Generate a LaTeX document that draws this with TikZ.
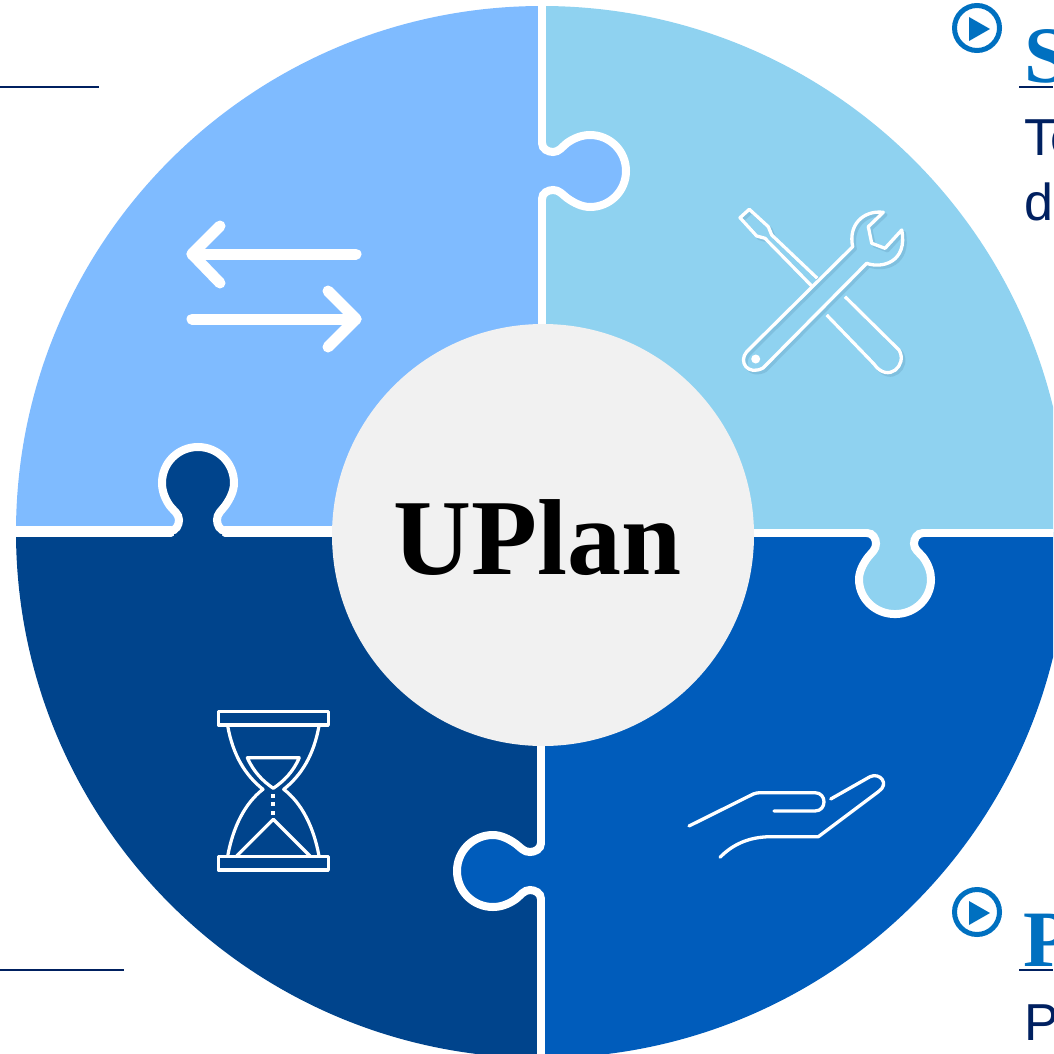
\documentclass[tikz,border=0pt]{standalone}
\usepackage{xcolor}
\usepackage{fontspec}
\setmainfont{Liberation Serif}
\setsansfont{Liberation Sans}
\usetikzlibrary{positioning}

\definecolor{lightblue}{HTML}{7FBBFF}
\definecolor{skyblue}{HTML}{8FD2F0}
\definecolor{darkblue}{HTML}{00448C}
\definecolor{midblue}{HTML}{005CBB}
\definecolor{hubgray}{HTML}{F1F1F1}
\definecolor{playblue}{HTML}{0070C0}
\definecolor{navy}{HTML}{002060}
\definecolor{toolshadow}{HTML}{80C0DF}

\tikzset{
    knob/.pic={
        % neck sits on the seam, head points along +x
        \path[fill=\knobfill] (-6,-24) -- (6,-24) -- (11,-19) .. controls (17,-19) and (20,-24) .. (25,-28)
            .. controls (32,-33) and (40,-36) .. (48,-36)
            .. controls (68,-36) and (84,-20) .. (84,0)
            .. controls (84,20) and (68,36) .. (48,36)
            .. controls (40,36) and (32,32) .. (25,27)
            .. controls (20,23) and (17,19) .. (11,19) -- (6,24) -- (-6,24) -- cycle;
        \draw[seam] (0,-28) .. controls (0,-22) and (6,-19) .. (11,-19)
            .. controls (17,-19) and (20,-24) .. (25,-28)
            .. controls (32,-33) and (40,-36) .. (48,-36)
            .. controls (68,-36) and (84,-20) .. (84,0)
            .. controls (84,20) and (68,36) .. (48,36)
            .. controls (40,36) and (32,32) .. (25,27)
            .. controls (20,23) and (17,19) .. (11,19)
            .. controls (6,19) and (0,22) .. (0,28);
    }
}

\begin{document}
\begin{tikzpicture}[
            x=1pt, y=-1pt,
            seam/.style={draw=white, line width=8pt, line cap=round},
            bigarrow/.style={draw=white, line width=11pt, line cap=round, line join=round},
            iconline/.style={draw=white, line width=3.2pt, line join=round},
            handline/.style={draw=white, line width=3.3pt, line cap=round, line join=round},
            rule/.style={draw=navy, line width=1.2pt},
            play/.style={circle, draw=playblue, line width=5pt, minimum size=45pt, inner sep=0pt},
            heading/.style={font=\fontsize{80}{80}\selectfont\bfseries, text=playblue, anchor=base west, inner sep=0pt},
            body/.style={font=\sffamily\fontsize{52}{52}\selectfont, text=navy, anchor=base west, inner sep=0pt}
        ]
        \useasboundingbox (0,0) rectangle (1053,1054);
        \clip (0,0) rectangle (1053,1054);

        % Quadrants
        \fill[lightblue] (542,532) -- (16,532) arc[start angle=180, end angle=90, radius=526pt] -- cycle;
        \fill[skyblue] (542,532) -- (542,6) arc[start angle=90, end angle=0, radius=526pt] -- cycle;
        \fill[midblue] (542,532) -- (1068,532) arc[start angle=0, end angle=-90, radius=526pt] -- cycle;
        \fill[darkblue] (542,532) -- (542,1058) arc[start angle=-90, end angle=-180, radius=526pt] -- cycle;

        % Seams
        \draw[seam] (542,-5) -- (542,143);
        \draw[seam] (542,199) -- (542,330);
        \draw[seam] (1060,533) -- (923,533);
        \draw[seam] (867,533) -- (750,533);
        \draw[seam] (541,740) -- (541,843);
        \draw[seam] (541,899) -- (541,1060);
        \draw[seam, line width=11pt] (10,531) -- (171,531);
        \draw[seam, line width=11pt] (225,531) -- (335,531);

        % Knobs
        \def\knobfill{lightblue}
        \pic at (542,171) {knob};
        \def\knobfill{skyblue}
        \pic[rotate=-90, xscale=.965] at (895,533) {knob};
        \def\knobfill{midblue}
        \pic[rotate=180] at (541,871) {knob};
        \def\knobfill{darkblue}
        \pic[rotate=90] at (198,531) {knob};

        % Centre
        \node[circle, fill=hubgray, minimum size=422pt, inner sep=0pt] (hub) at (543,535) {};
        \node[font=\fontsize{108}{108}\selectfont\bfseries, anchor=base, inner sep=0pt] (title) at (538,574) {UPlan};

        % Arrows icon
        \draw[bigarrow] (192,254) -- (356,254);
        \draw[bigarrow] (220,226) -- (192,254) -- (220,283);
        \draw[bigarrow] (192,319) -- (356,319);
        \draw[bigarrow] (328,291) -- (356,319) -- (328,347);

        % Tools icon, shadow first
        \foreach \dd/\cc in {2.5/toolshadow, 0/white} {
            \begin{scope}[shift={(\dd,\dd)}, every path/.style={draw=\cc, line width=3.3pt, line join=round}]
                \draw (883.3,212.3) .. controls (863,210) and (848,225) .. (852.7,246.7)
                    -- (746.7,351.7) .. controls (738,362) and (748,376) .. (763,368)
                    -- (866.7,263.3) .. controls (882,269) and (908,262) .. (901.7,230)
                    -- (885,248.3) -- (871.7,243.3) -- (868.3,226.7) -- cycle;
                \draw (817.3,278.3) -- (771.7,235) -- (768.3,226.7) -- (749.3,209.3) -- (740,217.7)
                    -- (756.7,236) -- (765,238.3) -- (811.7,286);
                \draw (845,296.7) -- (899,350) .. controls (908,365) and (888,384) .. (874,364) -- (826.7,315);
            \end{scope}
        }
        \fill[white] (755.7,359) circle (4.5pt);

        % Hourglass icon
        \draw[iconline] (218.3,711.7) rectangle (328.3,725);
        \draw[iconline] (218.3,856.7) rectangle (328.3,870);
        \draw[iconline] (227.7,726) .. controls (233,755) and (245,775) .. (263,789.3)
            .. controls (245,803) and (233,827) .. (227.7,856);
        \draw[iconline] (319,726) .. controls (313.7,755) and (301.7,775) .. (283.7,789.3)
            .. controls (301.7,803) and (313.7,827) .. (319,856);
        \draw[iconline] (247.3,757.7) -- (299.3,757.7) .. controls (293,772) and (284,781) .. (273.3,788.3)
            .. controls (262.7,781) and (253.7,772) .. cycle;
        \draw[iconline] (236.7,856) -- (273.3,819.3) -- (310,856);
        \foreach \yy in {796,804.3,812.7} {
            \fill[white] (271.3,\yy-2) rectangle (275.3,\yy+2);
        }

        % Hand icon
        \draw[handline] (689,826) -- (753.3,794) .. controls (756,793) and (758,792.7) .. (760,792.7) -- (815,792.7)
            .. controls (827,792.7) and (827,811) .. (815,811) -- (774,811);
        \draw[handline] (830.7,799) -- (870,776.7) .. controls (880,772) and (890,784) .. (878.3,791.7)
            -- (818.3,836.7) -- (770,836.7) .. controls (748,837) and (732,845) .. (720,857.3);

        % Text fragments at the right edge
        \node[play] (playtop) at (977,28) {};
        \fill[playblue] (969,17) -- (990,29) -- (969,41) -- cycle;
        \node[play] (playlow) at (977,912) {};
        \fill[playblue] (969,901) -- (990,913) -- (969,925) -- cycle;

        \node[heading] (headtop) at (1024,83) {S};
        \node[heading] (headlow) at (1023,966) {P};
        \draw[rule] (1019,87) -- (1053,87);
        \draw[rule] (1019,970) -- (1053,970);
        \draw[rule] (0,87) -- (99,87);
        \draw[rule] (0,970) -- (124,970);

        \node[body] (bodya) at (1024,155) {Te};
        \node[body] (bodyb) at (1024,220) {d};
        \node[body] (bodyc) at (1024,1040) {P};
    \end{tikzpicture}
\end{document}
